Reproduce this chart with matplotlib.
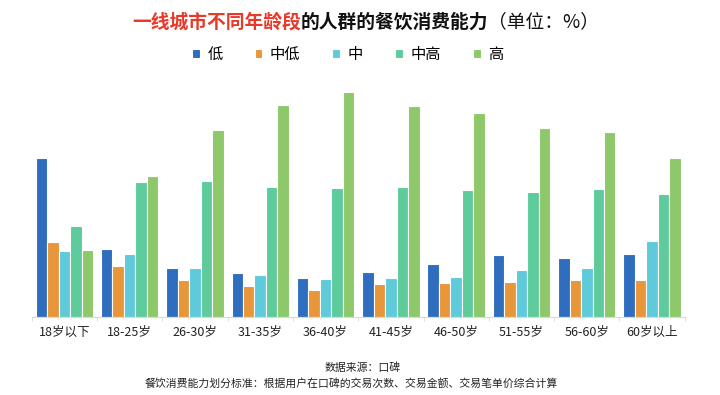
import matplotlib.pyplot as plt
import numpy as np

plt.rcParams['font.family'] = ['Noto Sans CJK SC', 'DejaVu Sans']

# 年龄段
ages = ['18岁以下', '18-25岁', '26-30岁', '31-35岁', '36-40岁',
        '41-45岁', '46-50岁', '51-55岁', '56-60岁', '60岁以上']
levels = ['低', '中低', '中', '中高', '高']

# values (no axis in the original, relative scale)
low = [15.9, 6.8, 4.9, 4.4, 3.9, 4.5, 5.3, 6.2, 5.9, 6.3]
mid_low = [7.5, 5.1, 3.7, 3.1, 2.7, 3.3, 3.4, 3.5, 3.7, 3.7]
mid = [6.6, 6.3, 4.9, 4.2, 3.8, 3.9, 4.0, 4.7, 4.9, 7.6]
mid_high = [9.1, 13.5, 13.6, 13.0, 12.9, 13.0, 12.7, 12.5, 12.8, 12.3]
high = [6.7, 14.1, 18.6, 21.1, 22.4, 21.0, 20.3, 18.8, 18.4, 15.9]

series = [low, mid_low, mid, mid_high, high]
colors = ['#2F6EBF', '#E8963A', '#5FCBDA', '#5ECB9C', '#8DC86A']

fig = plt.figure(figsize=(7.2, 3.95), dpi=100)
ax = fig.add_axes([0.044, 0.197, 0.907, 0.61])

x = np.arange(len(ages))
w = 0.176
for i in range(len(series)):
    ax.bar(x + (i - 2) * w, series[i], width=w, color=colors[i],
           edgecolor='white', linewidth=0.8, label=levels[i])

ax.set_xlim(-0.5, len(ages) - 0.5)
ax.set_ylim(0, 24)
ax.set_yticks([])
for s in ['top', 'right', 'left']:
    ax.spines[s].set_visible(False)
ax.spines['bottom'].set_color('#D9D9D9')
ax.set_xticks(x)
ax.set_xticklabels(ages, fontsize=9, color='#222222')
ax.tick_params(axis='x', length=0, pad=6)
ax.set_xticks(np.arange(len(ages) + 1) - 0.5, minor=True)
ax.tick_params(axis='x', which='minor', length=3, color='#D9D9D9')

leg = fig.legend(loc='center', bbox_to_anchor=(0.483, 0.862), ncol=5,
                 frameon=False, fontsize=11, handlelength=0.5,
                 handleheight=0.5, handletextpad=0.5, columnspacing=2.1)

# title in three pieces
t1 = fig.text(0.183, 0.944, '一线城市不同年龄段', color='#E8392A',
              fontsize=13.5, fontweight='bold', va='center')
fig.canvas.draw()
bb = t1.get_window_extent()
t2 = fig.text(bb.x1 / 720, 0.944, '的人群的餐饮消费能力', color='#111111',
              fontsize=13.5, fontweight='bold', va='center')
fig.canvas.draw()
bb = t2.get_window_extent()
fig.text(bb.x1 / 720, 0.944, '（单位：%）', color='#111111',
         fontsize=13.5, va='center')

fig.text(0.503, 0.068, '数据来源：口碑', fontsize=7.8, ha='center',
         va='center', color='#222222')
fig.text(0.488, 0.030, '餐饮消费能力划分标准：根据用户在口碑的交易次数、交易金额、交易笔单价综合计算',
         fontsize=7.8, ha='center', va='center', color='#222222')

fig.savefig('out.png', dpi=100)
